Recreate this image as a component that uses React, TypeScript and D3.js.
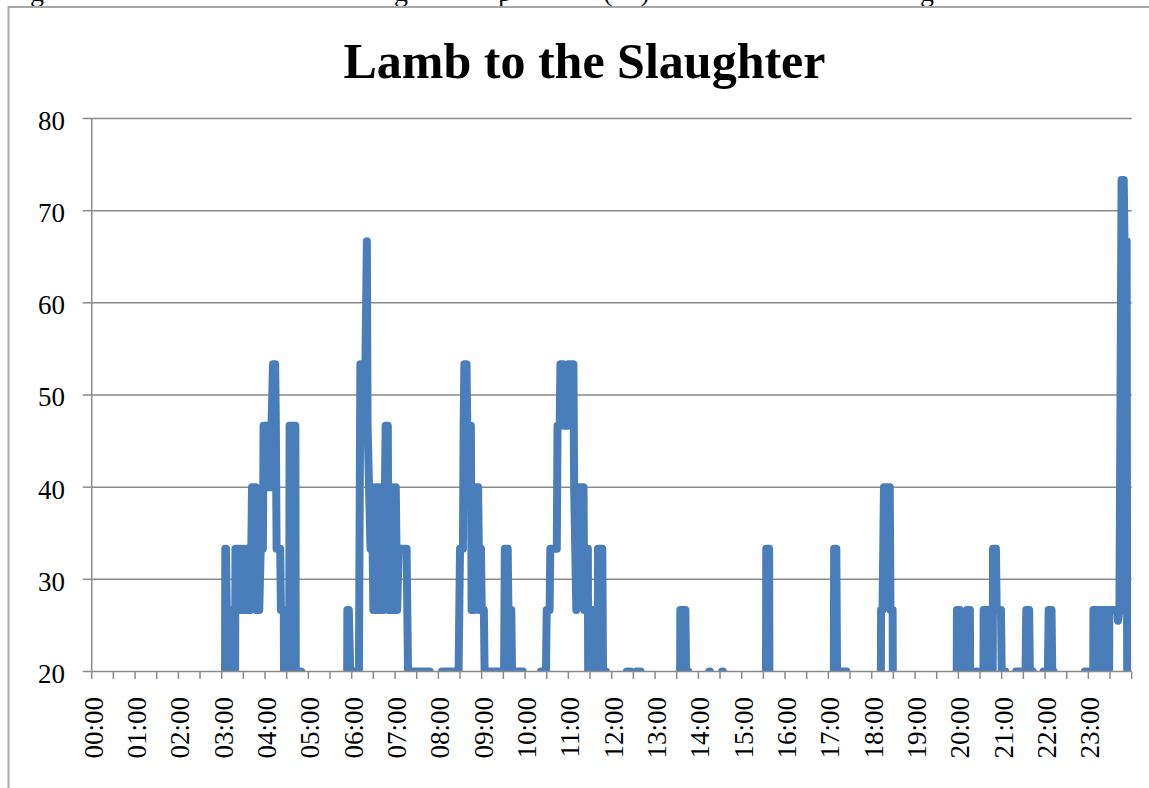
import React from "react";
import * as d3 from "d3";

// activity samples: time of day and value (values under 20 fall below the axis and get clipped)
const times = [
  "03:04", "03:05", "03:06", "03:07", "03:11", "03:12", "03:18", "03:19", "03:23", "03:24",
  "03:26", "03:28", "03:30", "03:32", "03:34", "03:36", "03:38", "03:40", "03:42", "03:47",
  "03:48", "03:50", "03:52", "03:54", "03:57", "03:58", "04:03", "04:04", "04:08", "04:09",
  "04:11", "04:14", "04:15", "04:16", "04:21", "04:22", "04:26", "04:27", "04:33", "04:34",
  "04:42", "04:43", "04:46", "04:47", "04:50", "04:51",
  "05:53", "05:54", "05:56", "05:58", "06:10", "06:12", "06:19", "06:21", "06:22", "06:24",
  "06:26", "06:28", "06:29", "06:30", "06:31", "06:33", "06:35", "06:37", "06:39", "06:40",
  "06:42", "06:44", "06:46", "06:47", "06:50", "06:51", "06:53", "06:55", "06:57", "06:59",
  "07:01", "07:03", "07:05", "07:16", "07:18", "07:48", "07:49", "08:04", "08:05", "08:28",
  "08:29", "08:30", "08:34", "08:35", "08:36", "08:39", "08:40", "08:45", "08:46", "08:48",
  "08:50", "08:52", "08:55", "08:56", "08:57", "08:59", "09:00", "09:03", "09:04", "09:31",
  "09:32", "09:36", "09:37", "09:41", "09:42", "09:57", "09:58",
  "10:21", "10:22", "10:29", "10:30", "10:34", "10:35", "10:44", "10:45", "10:48", "10:49",
  "10:53", "10:54", "10:59", "11:00", "11:07", "11:08", "11:11", "11:13", "11:21", "11:22",
  "11:24", "11:27", "11:28", "11:30", "11:31", "11:33", "11:34", "11:40", "11:41", "11:47",
  "11:48", "11:52", "11:53",
  "12:20", "12:21", "12:26", "12:28", "12:32", "12:34", "12:40", "12:41",
  "13:34", "13:35", "13:42", "13:43", "13:46", "13:47",
  "14:14", "14:15", "14:16", "14:17", "14:32", "14:33", "14:34", "14:35",
  "15:33", "15:34", "15:38", "15:39",
  "17:07", "17:08", "17:11", "17:12", "17:25", "17:26",
  "18:12", "18:13", "18:15", "18:16", "18:17", "18:25", "18:26", "18:29", "18:30",
  "19:57", "19:58", "20:02", "20:03", "20:11", "20:12", "20:16", "20:17",
  "20:24", "20:25", "20:26", "20:27",
  "20:34", "20:35", "20:44", "20:45", "20:47", "20:48", "20:52", "20:53", "20:59", "21:00",
  "21:05", "21:06",
  "21:19", "21:20", "21:33", "21:34", "21:38", "21:39", "21:43", "21:44",
  "21:57", "21:58", "22:04", "22:05", "22:09", "22:10", "22:12", "22:13",
  "22:54", "22:55", "22:59", "23:00", "23:06", "23:07", "23:11", "23:12", "23:16", "23:17",
  "23:24", "23:25", "23:28", "23:29", "23:40", "23:41", "23:43", "23:46", "23:49", "23:50",
  "23:51", "23:52", "23:53", "23:54",
];

const values = [
  0, 33.33, 33.33, 26.67, 26.67, 0, 0, 33.33, 33.33, 26.67,
  33.33, 26.67, 33.33, 26.67, 33.33, 26.67, 33.33, 26.67, 40, 40,
  26.67, 33.33, 26.67, 33.33, 33.33, 46.67, 46.67, 40, 40, 46.67,
  53.33, 53.33, 46.67, 33.33, 33.33, 26.67, 26.67, 0, 0, 46.67,
  46.67, 0, 0, 20, 20, 0,
  0, 26.67, 26.67, 20, 20, 53.33, 53.33, 66.67, 46.67, 40,
  33.33, 40, 33.33, 26.67, 40, 26.67, 40, 26.67, 40, 26.67,
  33.33, 26.67, 40, 46.67, 46.67, 26.67, 40, 26.67, 40, 26.67,
  40, 26.67, 33.33, 33.33, 20, 20, 0, 0, 20, 20,
  26.67, 33.33, 33.33, 46.67, 53.33, 53.33, 46.67, 46.67, 26.67, 40,
  26.67, 40, 40, 33.33, 26.67, 33.33, 26.67, 26.67, 20, 20,
  33.33, 33.33, 26.67, 26.67, 20, 20, 0,
  0, 20, 20, 26.67, 26.67, 33.33, 33.33, 46.67, 46.67, 53.33,
  53.33, 46.67, 46.67, 53.33, 53.33, 40, 26.67, 40, 40, 26.67,
  33.33, 33.33, 0, 0, 26.67, 26.67, 0, 0, 33.33, 33.33,
  20, 20, 0,
  0, 20, 20, 0, 0, 20, 20, 0,
  0, 26.67, 26.67, 20, 20, 0,
  0, 20, 20, 0, 0, 20, 20, 0,
  0, 33.33, 33.33, 0,
  0, 33.33, 33.33, 20, 20, 0,
  0, 26.67, 26.67, 33.33, 40, 40, 26.67, 26.67, 0,
  0, 26.67, 26.67, 0, 0, 26.67, 26.67, 0,
  0, 20, 20, 0,
  0, 26.67, 26.67, 0, 0, 33.33, 33.33, 26.67, 26.67, 20,
  20, 0,
  0, 20, 20, 26.67, 26.67, 20, 20, 0,
  0, 20, 20, 26.67, 26.67, 20, 20, 0,
  0, 20, 20, 0, 0, 26.67, 26.67, 0, 0, 26.67,
  26.67, 0, 0, 26.67, 26.67, 25.5, 26.67, 73.33, 73.33, 66.67,
  40, 66.67, 66.67, 0,
];

const hourLabels = [
  "00:00", "01:00", "02:00", "03:00", "04:00", "05:00", "06:00", "07:00",
  "08:00", "09:00", "10:00", "11:00", "12:00", "13:00", "14:00", "15:00",
  "16:00", "17:00", "18:00", "19:00", "20:00", "21:00", "22:00", "23:00",
];
const yTicks = [20, 30, 40, 50, 60, 70, 80];
const title = "Lamb to the Slaughter";

const W = 1149;
const H = 788;
const left = 91.7;
const right = 1131.7;
const top = 118.5;
const bottom = 671.5;
const font = "'Liberation Serif', 'Times New Roman', serif";
const axisColor = "#8a8a8a";

function toMinutes(t: string) {
  const [h, m] = t.split(":").map(Number);
  return h * 60 + m;
}

export default function App() {
  const x = d3.scaleLinear().domain([0, 1440]).range([left, right]);
  const y = d3.scaleLinear().domain([20, 80]).range([bottom, top]);

  const points: [number, number][] = times.map((t, i) => [toMinutes(t), values[i]]);
  const path = d3
    .line<[number, number]>()
    .x((d) => x(d[0]))
    .y((d) => y(d[1]))(points);

  // half-hour tick marks
  const xTicks = d3.range(0, 1441, 30);

  return (
    <div style={{ position: "absolute", left: 0, top: 0 }}>
      <svg width={W} height={H} style={{ display: "block", background: "#fff" }}>
        <defs>
          <clipPath id="plot">
            <rect x={left} y={top - 20} width={right - left} height={bottom - top + 20} />
          </clipPath>
        </defs>

        {/* cut-off caption of the page above */}
        <g fontFamily={font} fontSize={28} fill="#111" textAnchor="middle">
          <text x={37} y={1}>g</text>
          <text x={401} y={1}>g</text>
          <text x={505} y={1}>p</text>
          <text x={608} y={1}>(</text>
          <text x={645} y={1}>)</text>
          <text x={927} y={1}>g</text>
        </g>

        {/* chart frame */}
        <rect x={8.5} y={7} width={W + 20} height={H + 20} fill="none" stroke="#a6a6a6" strokeWidth={2} />

        <text
          x={584.5}
          y={78}
          textAnchor="middle"
          fontFamily={font}
          fontWeight="bold"
          fontSize={50}
          fill="#000"
        >
          {title}
        </text>

        {/* gridlines */}
        {yTicks.slice(1).map((v) => (
          <line key={v} x1={left} x2={right} y1={y(v)} y2={y(v)} stroke={axisColor} strokeWidth={1.5} />
        ))}

        {/* y axis */}
        <line x1={left} x2={left} y1={top} y2={bottom} stroke={axisColor} strokeWidth={1.5} />
        {yTicks.map((v) => (
          <g key={v}>
            <line x1={left - 9} x2={left} y1={y(v)} y2={y(v)} stroke={axisColor} strokeWidth={1.5} />
            <text
              x={65}
              y={y(v) + 2}
              dy="0.35em"
              textAnchor="end"
              fontFamily={font}
              fontSize={27}
              fill="#000"
            >
              {v}
            </text>
          </g>
        ))}

        {/* data line */}
        <path
          d={path ?? ""}
          clipPath="url(#plot)"
          fill="none"
          stroke="#4a7ebb"
          strokeWidth={8}
          strokeLinejoin="round"
          strokeLinecap="round"
        />

        {/* x axis */}
        <line x1={left} x2={right} y1={bottom} y2={bottom} stroke={axisColor} strokeWidth={1.5} />
        {xTicks.map((m) => (
          <line key={m} x1={x(m)} x2={x(m)} y1={bottom} y2={bottom + 7.5} stroke={axisColor} strokeWidth={1.5} />
        ))}
        {hourLabels.map((lab, i) => (
          <text
            key={lab}
            transform={`translate(${x(i * 60) + 1.5},697) rotate(-90)`}
            dy="0.35em"
            textAnchor="end"
            fontFamily={font}
            fontSize={27}
            fill="#000"
          >
            {lab}
          </text>
        ))}
      </svg>
    </div>
  );
}
